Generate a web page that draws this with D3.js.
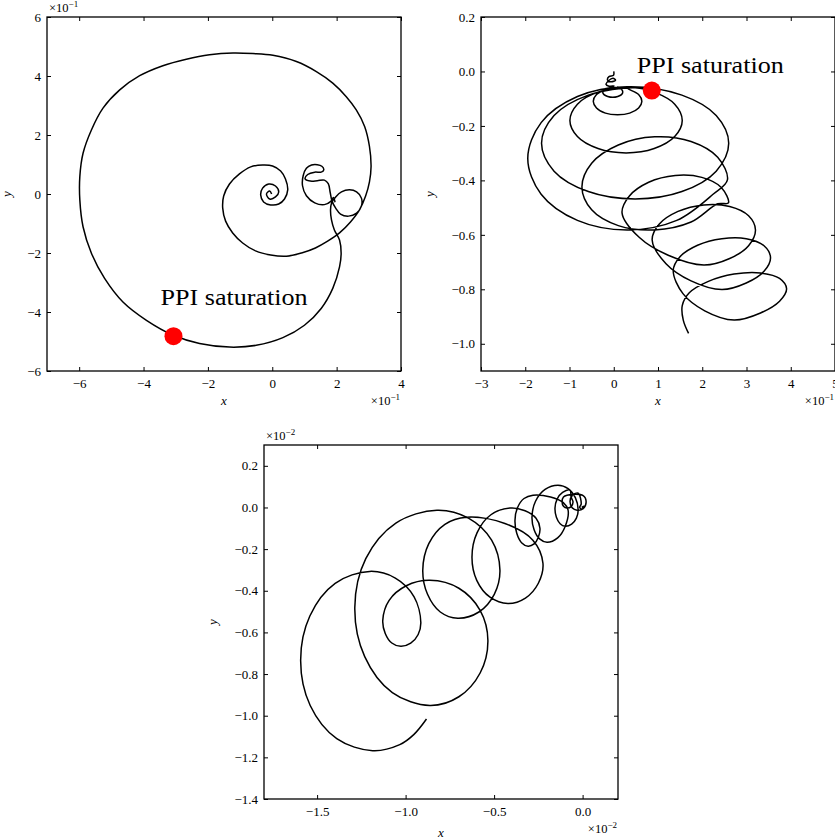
<!DOCTYPE html>
<html>
<head>
<meta charset="utf-8">
<script src="https://cdn.jsdelivr.net/npm/d3@7"></script>
<style>
  body { margin: 0; background: #fff; }
  svg { display: block; }
  svg text { font-family: "Liberation Serif", "Times New Roman", Times, serif; fill: #000; }
</style>
</head>
<body>
<svg id="fig" width="835" height="839"></svg>
<script>
// ---------------- Panel A: spiral trajectory (axes in units of 1e-1) ----------------
const trajAX = [-0.02,-0.08,-0.18,-0.08,0.10,0.20,0.10,-0.11,-0.30,-0.36,-0.27,-0.05,0.20,0.38,0.48,0.41,0.26,0.01,-0.30,-0.67,
  -1.02,-1.33,-1.51,-1.54,-1.45,-1.23,-0.92,-0.52,-0.05,0.44,0.91,1.34,1.72,2.09,2.43,2.71,2.90,3.02,3.07,3.02,
  2.87,2.61,2.30,1.88,1.37,0.75,0.02,-0.60,-1.22,-1.95,-2.67,-3.40,-4.12,-4.74,-5.26,-5.62,-5.88,-5.98,-5.98,-5.88,
  -5.62,-5.21,-4.64,-3.91,-3.07,-2.26,-1.33,-0.50,0.33,1.00,1.52,1.88,2.09,2.14,2.09,1.93,1.84,1.81,1.84,1.97,
  2.15,2.40,2.62,2.77,2.77,2.62,2.37,2.12,1.97,1.86,1.80,1.74,1.62,1.40,1.18,1.02,1.10,1.32,1.52,1.60,
  1.54,1.40,1.22,1.06,0.96,0.94,1.06,1.32,1.62,1.82,1.90,1.95];
const trajAY = [0.00,0.10,0.00,-0.17,-0.10,0.07,0.27,0.34,0.20,-0.03,-0.27,-0.37,-0.34,-0.17,0.14,0.51,0.78,0.95,0.98,0.92,
  0.68,0.34,-0.07,-0.48,-0.92,-1.32,-1.66,-1.93,-2.07,-2.11,-2.00,-1.83,-1.60,-1.32,-0.95,-0.54,-0.07,0.41,0.93,1.61,
  2.29,2.85,3.30,3.76,4.15,4.49,4.70,4.76,4.78,4.72,4.57,4.35,4.01,3.53,2.91,2.17,1.38,0.59,-0.20,-1.11,
  -2.01,-2.86,-3.66,-4.28,-4.79,-5.07,-5.19,-5.13,-4.87,-4.45,-3.88,-3.20,-2.47,-2.01,-1.56,-1.22,-0.88,-0.54,-0.31,-0.10,
  0.07,0.14,0.07,-0.14,-0.41,-0.65,-0.75,-0.68,-0.48,-0.25,0.05,0.35,0.47,0.45,0.44,0.52,0.66,0.74,0.74,0.82,
  0.94,0.99,0.98,0.87,0.62,0.28,-0.06,-0.30,-0.36,-0.25,-0.12,-0.28];
const markA = [-3.07, -4.82];
const labelA = [-3.47, -3.77];
const xTicksA = [-6, -4, -2, 0, 2, 4];
const yTicksA = [-6, -4, -2, 0, 2, 4, 6];

// ---------------- Panel B: drifting loops (x in units of 1e-1) ----------------
const trajBX = [0.000,-0.005,-0.107,-0.141,-0.061,0.041,-0.016,-0.118,-0.175,-0.107,0.007,-0.084,-0.220,
  -0.249,-0.220,-0.136,-0.023,0.091,0.175,0.204,0.175,0.091,
  0.086,-0.188,-0.390,-0.462,-0.390,-0.188,0.086,0.360,0.562,0.635,0.562,0.360,
  0.279,-0.356,-0.821,-0.991,-0.821,-0.356,0.279,0.914,1.378,1.548,1.378,0.914,
  0.483,-0.575,-1.349,-1.632,-1.349,-0.575,0.483,1.540,2.315,2.598,2.315,1.540,
  0.302,-0.821,-1.641,-1.943,-1.641,-0.821,0.302,1.424,2.244,
  2.569,2.349,1.747,0.925,0.103,-0.499,-0.719,-0.499,0.103,0.925,1.747,2.349,
  2.591,2.430,1.990,1.390,0.789,0.349,0.188,0.574,1.231,
  2.036,2.620,3.047,3.203,3.047,2.620,2.036,1.452,1.025,0.868,1.181,1.747,
  2.444,2.994,3.396,3.543,3.396,2.994,2.444,1.894,1.492,1.344,1.564,2.056,
  2.719,3.317,3.747,3.906,3.747,3.317,2.719,2.138,1.707,1.548,1.571,1.691];
const trajBY = [0.000,-0.014,-0.019,-0.031,-0.038,-0.032,-0.025,-0.034,-0.047,-0.054,-0.053,-0.060,-0.065,
  -0.075,-0.085,-0.092,-0.095,-0.092,-0.085,-0.075,-0.065,-0.057,
  -0.060,-0.067,-0.085,-0.110,-0.134,-0.153,-0.159,-0.153,-0.134,-0.110,-0.085,-0.067,
  -0.060,-0.076,-0.120,-0.180,-0.239,-0.283,-0.299,-0.283,-0.239,-0.180,-0.120,-0.076,
  -0.060,-0.087,-0.162,-0.264,-0.366,-0.441,-0.468,-0.441,-0.366,-0.264,-0.162,-0.087,
  -0.056,-0.092,-0.188,-0.319,-0.451,-0.547,-0.582,-0.547,-0.451,
  -0.398,-0.315,-0.257,-0.240,-0.270,-0.337,-0.424,-0.508,-0.566,-0.582,-0.553,-0.486,
  -0.483,-0.426,-0.389,-0.382,-0.407,-0.458,-0.520,-0.609,-0.675,
  -0.711,-0.687,-0.640,-0.582,-0.530,-0.496,-0.490,-0.514,-0.561,-0.619,-0.706,-0.769,
  -0.801,-0.777,-0.734,-0.684,-0.640,-0.614,-0.614,-0.638,-0.681,-0.731,-0.816,-0.879,
  -0.913,-0.887,-0.844,-0.798,-0.760,-0.740,-0.744,-0.771,-0.813,-0.860,-0.913,-0.962];
const markB = [0.86, -0.07];
const labelB = [0.52, -0.005];
const xTicksB = [-3, -2, -1, 0, 1, 2, 3, 4, 5];
const yTicksB = [-1.0, -0.8, -0.6, -0.4, -0.2, 0.0, 0.2];

// ---------------- Panel C: growing loops (axes in units of 1e-2) ----------------
const trajCX = [-0.005,0.008,-0.003,-0.017,-0.008,
  -0.025,-0.057,-0.071,-0.059,-0.031,0.003,0.020,0.003,
  -0.088,-0.108,-0.116,-0.108,-0.088,-0.065,-0.054,-0.065,
  -0.071,-0.113,-0.144,-0.156,-0.148,-0.127,-0.099,-0.062,-0.035,-0.025,-0.041,-0.082,
  -0.139,-0.212,-0.266,-0.286,-0.274,-0.243,-0.201,-0.141,-0.098,-0.082,-0.109,-0.181,
  -0.280,-0.331,-0.368,-0.382,-0.372,-0.345,-0.308,-0.274,-0.250,-0.241,-0.263,-0.325,
  -0.410,-0.518,-0.596,-0.625,-0.598,-0.523,-0.422,-0.323,-0.250,-0.224,-0.281,-0.439,
  -0.654,-0.778,-0.869,-0.903,-0.876,-0.804,-0.705,-0.586,-0.499,-0.467,-0.514,-0.645,
  -0.823,-1.055,-1.225,-1.287,-1.231,-1.075,-0.863,-0.699,-0.579,-0.535,
  -0.579,-0.699,-0.863,-0.996,-1.093,
  -1.129,-1.115,-1.078,-1.027,-0.971,-0.929,-0.914,-0.952,-1.058,
  -1.203,-1.398,-1.541,-1.593,-1.539,-1.389,-1.186,-1.033,-0.954,-0.882];
const trajCY = [0.000,0.006,-0.008,0.001,0.016,
  0.069,0.059,0.030,-0.001,-0.013,-0.006,0.026,0.057,
  0.059,0.050,0.028,0.006,-0.003,0.004,0.026,0.050,
  0.083,0.072,0.040,-0.003,-0.047,-0.078,-0.090,-0.080,-0.051,-0.013,0.047,0.091,
  0.107,0.087,0.030,-0.047,-0.107,-0.151,-0.167,-0.146,-0.090,-0.013,0.023,0.050,
  0.059,0.043,-0.001,-0.061,-0.124,-0.169,-0.186,-0.175,-0.143,-0.100,-0.052,-0.016,
  -0.003,-0.035,-0.121,-0.239,-0.350,-0.431,-0.461,-0.435,-0.364,-0.268,-0.157,-0.077,
  -0.047,-0.081,-0.174,-0.302,-0.417,-0.502,-0.532,-0.502,-0.417,-0.302,-0.157,-0.051,
  -0.013,-0.075,-0.246,-0.480,-0.716,-0.889,-0.951,-0.909,-0.795,-0.639,
  -0.494,-0.388,-0.350,-0.376,-0.446,
  -0.542,-0.605,-0.651,-0.667,-0.652,-0.610,-0.552,-0.429,-0.339,
  -0.307,-0.364,-0.521,-0.735,-0.951,-1.110,-1.168,-1.139,-1.091,-1.016];
const xTicksC = [-1.5, -1.0, -0.5, 0.0];
const yTicksC = [-1.4, -1.2, -1.0, -0.8, -0.6, -0.4, -0.2, 0.0, 0.2];

const SIZE = 354;
const FONT = '"Liberation Serif", "Times New Roman", Times, serif';
const TICK_FONT = 13;
const svg = d3.select("#fig");

function zipXY(xs, ys) { return xs.map((v, i) => [v, ys[i]]); }

// "×10^exp" scale note placed at a panel corner
function offsetLabel(g, x, y, exp, anchor) {
  const t = g.append("text")
    .attr("x", x).attr("y", y)
    .attr("text-anchor", anchor)
    .style("font-size", "12.5px");
  t.append("tspan").text("×10");
  t.append("tspan").attr("dy", -5).style("font-size", "9px").text("−" + Math.abs(exp));
}

function drawPanel(o, idx) {
  const g = svg.append("g").attr("transform", `translate(${o.left},${o.top})`);
  const x = d3.scaleLinear().domain(o.xDomain).range([0, SIZE]);
  const y = d3.scaleLinear().domain(o.yDomain).range([SIZE, 0]);

  g.append("clipPath").attr("id", "clip" + idx)
    .append("rect").attr("width", SIZE).attr("height", SIZE);

  const styleAxis = sel => {
    sel.select(".domain").remove();
    sel.attr("font-family", FONT).attr("font-size", TICK_FONT);
    sel.selectAll(".tick line").attr("stroke", "#000").attr("stroke-width", 1);
    sel.selectAll("text").attr("fill", "#000");
  };

  g.append("g").attr("transform", `translate(0,${SIZE})`)
    .call(d3.axisBottom(x).tickValues(o.xTicks).tickFormat(d3.format(o.xFmt))
      .tickSizeInner(-4).tickSizeOuter(0).tickPadding(8)).call(styleAxis);
  g.append("g")
    .call(d3.axisTop(x).tickValues(o.xTicks).tickFormat("")
      .tickSizeInner(-4).tickSizeOuter(0)).call(styleAxis);
  g.append("g")
    .call(d3.axisLeft(y).tickValues(o.yTicks).tickFormat(d3.format(o.yFmt))
      .tickSizeInner(-4).tickSizeOuter(0).tickPadding(6)).call(styleAxis);
  g.append("g").attr("transform", `translate(${SIZE},0)`)
    .call(d3.axisRight(y).tickValues(o.yTicks).tickFormat("")
      .tickSizeInner(-4).tickSizeOuter(0)).call(styleAxis);

  const line = d3.line()
    .x(d => x(d[0])).y(d => y(d[1]))
    .curve(d3.curveCatmullRom.alpha(0.5));

  g.append("path")
    .datum(zipXY(o.xs, o.ys))
    .attr("clip-path", `url(#clip${idx})`)
    .attr("fill", "none").attr("stroke", "#000")
    .attr("stroke-width", 1.5).attr("stroke-linejoin", "round")
    .attr("d", line);

  if (o.mark) {
    g.append("circle")
      .attr("cx", x(o.mark[0])).attr("cy", y(o.mark[1])).attr("r", 9)
      .attr("fill", "#ff0000");
  }
  if (o.label) {
    g.append("text")
      .attr("x", x(o.label[0])).attr("y", y(o.label[1]))
      .attr("textLength", 147).attr("lengthAdjust", "spacingAndGlyphs")
      .style("font-size", "23px")
      .text("PPI saturation");
  }

  g.append("rect").attr("width", SIZE).attr("height", SIZE)
    .attr("fill", "none").attr("stroke", "#000").attr("stroke-width", 1.3);

  // axis names
  g.append("text").attr("x", SIZE / 2).attr("y", SIZE + o.xLabelGap)
    .attr("text-anchor", "middle").style("font-style", "italic")
    .style("font-size", "13px").text("x");
  g.append("text")
    .attr("transform", `translate(${-o.yLabelGap},${SIZE / 2}) rotate(-90)`)
    .attr("text-anchor", "middle").style("font-style", "italic")
    .style("font-size", "13px").text("y");

  if (o.xExp !== null) offsetLabel(g, SIZE - 1, SIZE + 34, o.xExp, "end");
  if (o.yExp !== null) offsetLabel(g, 2, -5, o.yExp, "start");
}

drawPanel({
  left: 47, top: 17, xDomain: [-7, 4], yDomain: [-6, 6],
  xTicks: xTicksA, yTicks: yTicksA, xFmt: "d", yFmt: "d",
  xs: trajAX, ys: trajAY, mark: markA, label: labelA,
  xExp: -1, yExp: -1, xLabelGap: 34, yLabelGap: 36
}, 0);

drawPanel({
  left: 481, top: 17, xDomain: [-3, 5], yDomain: [-1.1, 0.2],
  xTicks: xTicksB, yTicks: yTicksB, xFmt: "d", yFmt: ".1f",
  xs: trajBX, ys: trajBY, mark: markB, label: labelB,
  xExp: -1, yExp: null, xLabelGap: 34, yLabelGap: 47
}, 1);

drawPanel({
  left: 264, top: 445, xDomain: [-1.8, 0.2], yDomain: [-1.4, 0.3],
  xTicks: xTicksC, yTicks: yTicksC, xFmt: ".1f", yFmt: ".1f",
  xs: trajCX, ys: trajCY, mark: null, label: null,
  xExp: -2, yExp: -2, xLabelGap: 38, yLabelGap: 47
}, 2);
</script>
</body>
</html>
